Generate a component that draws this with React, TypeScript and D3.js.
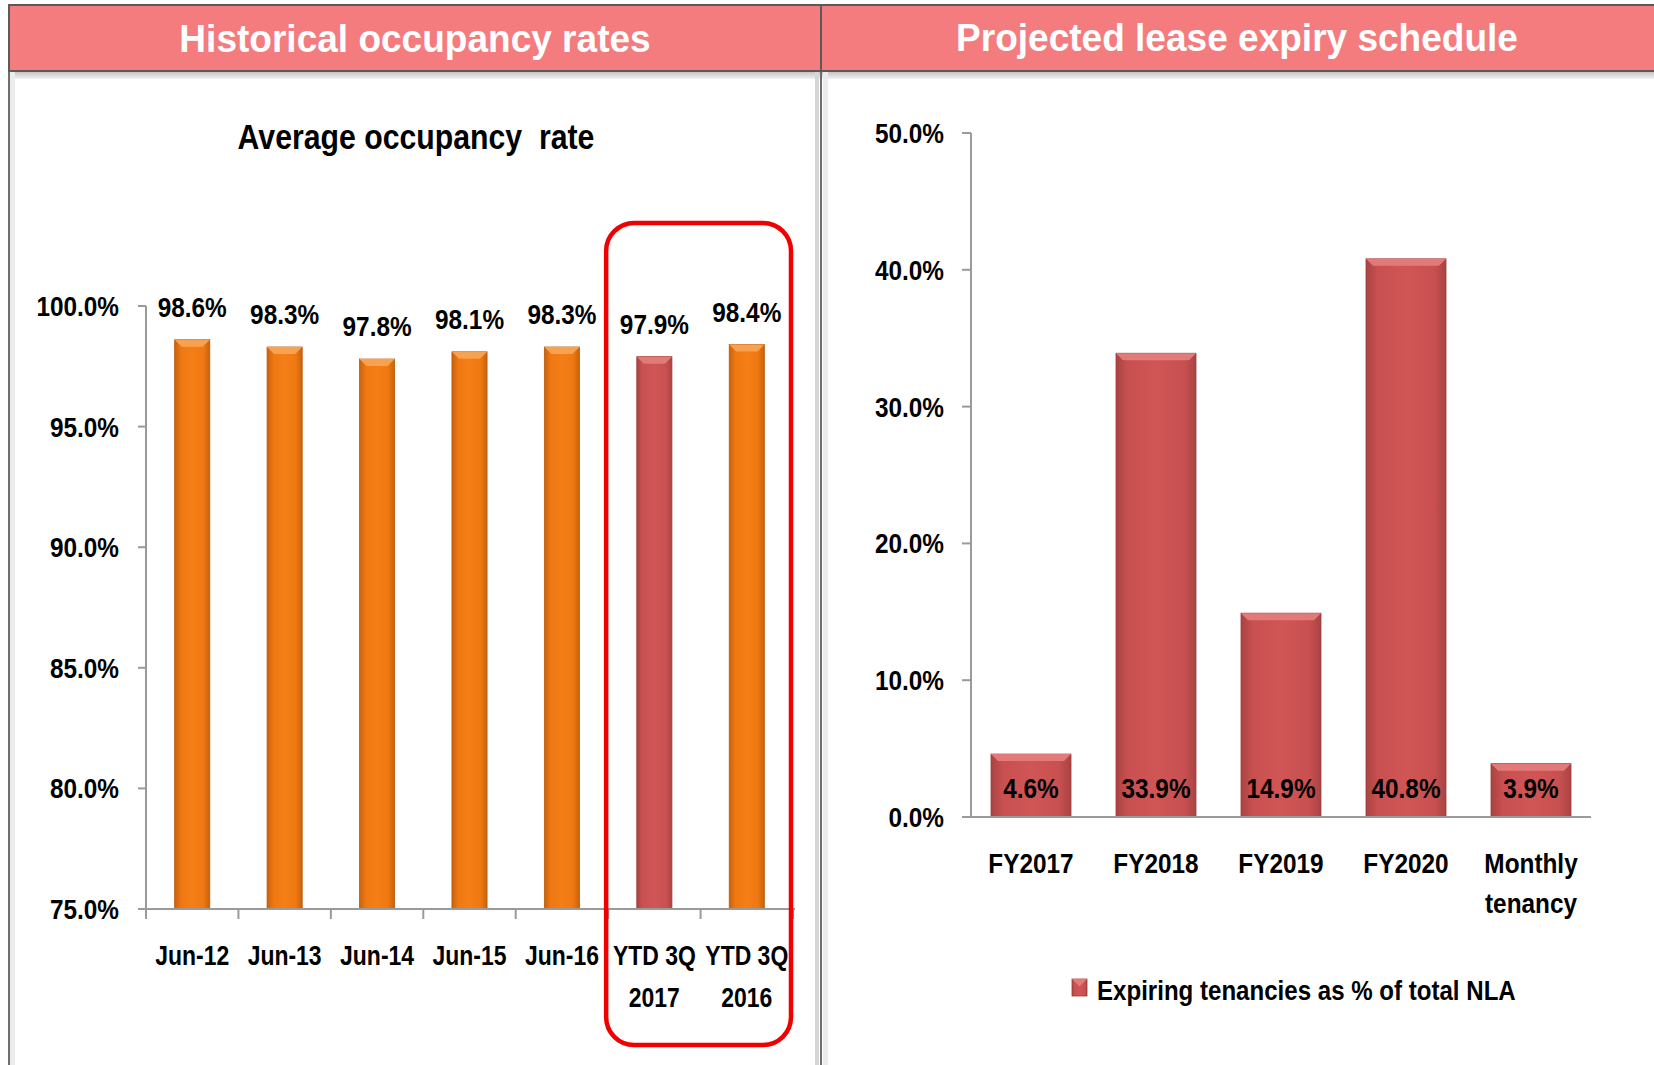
import React from "react";
import * as d3 from "d3";

const occCategories = ["Jun-12", "Jun-13", "Jun-14", "Jun-15", "Jun-16", "YTD 3Q|2017", "YTD 3Q|2016"];
const occValues = [98.6, 98.3, 97.8, 98.1, 98.3, 97.9, 98.4];
const occHighlight = [false, false, false, false, false, true, false];
const occTicks = [75, 80, 85, 90, 95, 100];

const leaseCategories = ["FY2017", "FY2018", "FY2019", "FY2020", "Monthly|tenancy"];
const leaseValues = [4.6, 33.9, 14.9, 40.8, 3.9];
const leaseTicks = [0, 10, 20, 30, 40, 50];

const leftHeader = "Historical occupancy rates";
const rightHeader = "Projected lease expiry schedule";
const leftTitle = "Average occupancy  rate";
const legendLabel = "Expiring tenancies as % of total NLA";

const FONT = "'Liberation Sans', Arial, sans-serif";

function NText({ x, y, size, anchor = "middle", sx = 0.88, lines, gap = 40, fill = "#000" }:
  { x: number; y: number; size: number; anchor?: string; sx?: number; lines: string[]; gap?: number; fill?: string }) {
  return (
    <text transform={`translate(${x},${y}) scale(${sx},1)`} textAnchor={anchor} fontFamily={FONT} fontWeight={700}
      fontSize={size} fill={fill} style={{ whiteSpace: "pre" }}>
      {lines.map((l, j) => (
        <tspan key={j} x={0} dy={j === 0 ? 0 : gap}>{l}</tspan>
      ))}
    </text>
  );
}

function Bar({ x, y, w, h, kind }: { x: number; y: number; w: number; h: number; kind: string }) {
  const b = Math.min(7, h / 2);
  const grad = kind === "orange" ? "url(#gOrange)" : "url(#gRed)";
  const top = kind === "orange" ? "#F8A251" : "#E27A7A";
  const edge = kind === "orange" ? "#B8580A" : "#9E3C3C";
  return (
    <g>
      <rect x={x} y={y} width={w} height={h} fill={grad} stroke={edge} strokeWidth={0.8} />
      <polygon points={`${x},${y} ${x + w},${y} ${x + w - b},${y + b} ${x + b},${y + b}`} fill={top} />
    </g>
  );
}

export default function App() {
  const xL = d3.scaleBand<string>().domain(occCategories).range([146, 793]).paddingInner(0.62).paddingOuter(0.31);
  const xLb = d3.scaleBand<string>().domain(occCategories).range([146, 793]);
  const yL = d3.scaleLinear().domain([75, 100]).range([909, 306]);

  const xR = d3.scaleBand<string>().domain(leaseCategories).range([971, 1591]).paddingInner(0.36).paddingOuter(0.16);
  const yR = d3.scaleLinear().domain([0, 50]).range([817, 133]);

  const boxX = xLb(occCategories[5])! - 2;

  return (
    <svg width={1654} height={1065} style={{ position: "absolute", left: 0, top: 0, background: "#fff" }}>
      <defs>
        <linearGradient id="gOrange" x1="0" x2="1" y1="0" y2="0">
          <stop offset="0" stopColor="#C9620B" />
          <stop offset="0.18" stopColor="#EE7812" />
          <stop offset="0.5" stopColor="#F57E16" />
          <stop offset="0.82" stopColor="#EE7812" />
          <stop offset="1" stopColor="#C9620B" />
        </linearGradient>
        <linearGradient id="gRed" x1="0" x2="1" y1="0" y2="0">
          <stop offset="0" stopColor="#A94343" />
          <stop offset="0.15" stopColor="#C95050" />
          <stop offset="0.5" stopColor="#D05656" />
          <stop offset="0.85" stopColor="#C95050" />
          <stop offset="1" stopColor="#A94343" />
        </linearGradient>
        <linearGradient id="gShadow" x1="0" x2="0" y1="0" y2="1">
          <stop offset="0" stopColor="#BDBDBD" />
          <stop offset="1" stopColor="#F2F2F2" />
        </linearGradient>
      </defs>

      {/* Panel frames */}
      <rect x={9} y={71} width={812} height={8} fill="url(#gShadow)" />
      <rect x={821} y={71} width={840} height={8} fill="url(#gShadow)" />
      <rect x={10} y={71} width={5} height={1000} fill="#ECECEC" />
      <line x1={9} x2={9} y1={5} y2={1065} stroke="#6E6E6E" strokeWidth={2} />
      <rect x={815} y={71} width={4} height={1000} fill="#D6D6D6" />
      <line x1={821} x2={821} y1={5} y2={1065} stroke="#6E6E6E" strokeWidth={2} />
      <rect x={823} y={71} width={5} height={1000} fill="#ECECEC" />

      {/* Headers */}
      <rect x={9} y={5} width={812} height={66} fill="#F47B7E" stroke="#5A5A5A" strokeWidth={2} />
      <rect x={821} y={5} width={840} height={66} fill="#F47B7E" stroke="#5A5A5A" strokeWidth={2} />
      <NText x={415} y={52} size={39} sx={0.95} lines={[leftHeader]} fill="#fff" />
      <NText x={1237} y={51} size={39} sx={0.95} lines={[rightHeader]} fill="#fff" />

      {/* Left chart title */}
      <NText x={416} y={149} size={36} sx={0.84} lines={[leftTitle]} />

      {/* Left y axis */}
      <line x1={146} x2={146} y1={yL(100)} y2={yL(75)} stroke="#9A9A9A" strokeWidth={2} />
      {occTicks.map((t) => (
        <g key={t}>
          <line x1={138} x2={146} y1={yL(t)} y2={yL(t)} stroke="#9A9A9A" strokeWidth={2} />
          <NText x={119} y={yL(t) + 10} size={28} sx={0.87} anchor="end" lines={[`${t.toFixed(1)}%`]} />
        </g>
      ))}
      {occCategories.map((c, i) => {
        const bx = xL(c)!;
        const by = yL(occValues[i]);
        return (
          <g key={c}>
            <Bar x={bx} y={by} w={xL.bandwidth()} h={yL(75) - by} kind={occHighlight[i] ? "red" : "orange"} />
            <NText x={bx + xL.bandwidth() / 2} y={by - 23} size={28} sx={0.87} lines={[`${occValues[i].toFixed(1)}%`]} />
          </g>
        );
      })}
      <line x1={146} x2={795} y1={yL(75)} y2={yL(75)} stroke="#9A9A9A" strokeWidth={2} />
      {occCategories.map((c) => (
        <line key={c} x1={xLb(c)!} x2={xLb(c)!} y1={yL(75)} y2={yL(75) + 10} stroke="#9A9A9A" strokeWidth={2} />
      ))}
      <line x1={793} x2={793} y1={yL(75)} y2={yL(75) + 10} stroke="#9A9A9A" strokeWidth={2} />
      {occCategories.map((c) => (
        <NText key={c} x={xLb(c)! + xLb.bandwidth() / 2} y={965} size={28} sx={0.82} lines={c.split("|")} gap={42} />
      ))}
      <rect x={boxX} y={223} width={791 - boxX} height={822} rx={28} ry={28}
        fill="none" stroke="#F00000" strokeWidth={4.5} />

      {/* Right y axis */}
      <line x1={971} x2={971} y1={yR(50)} y2={yR(0)} stroke="#9A9A9A" strokeWidth={2} />
      {leaseTicks.map((t) => (
        <g key={t}>
          <line x1={962} x2={971} y1={yR(t)} y2={yR(t)} stroke="#9A9A9A" strokeWidth={2} />
          <NText x={944} y={yR(t) + 10} size={28} sx={0.87} anchor="end" lines={[`${t.toFixed(1)}%`]} />
        </g>
      ))}
      {leaseCategories.map((c, i) => {
        const bx = xR(c)!;
        const by = yR(leaseValues[i]);
        return (
          <g key={c}>
            <Bar x={bx} y={by} w={xR.bandwidth()} h={yR(0) - by} kind="red" />
            <NText x={bx + xR.bandwidth() / 2} y={yR(0) - 19} size={28} sx={0.87} lines={[`${leaseValues[i].toFixed(1)}%`]} />
          </g>
        );
      })}
      <line x1={971} x2={1591} y1={yR(0)} y2={yR(0)} stroke="#9A9A9A" strokeWidth={2} />
      {leaseCategories.map((c) => (
        <NText key={c} x={xR(c)! + xR.bandwidth() / 2} y={873} size={28} sx={0.87} lines={c.split("|")} gap={40} />
      ))}
      {/* Legend */}
      <Bar x={1072} y={979} w={15} h={17} kind="red" />
      <NText x={1097} y={1000} size={28} sx={0.86} anchor="start" lines={[legendLabel]} />
    </svg>
  );
}
